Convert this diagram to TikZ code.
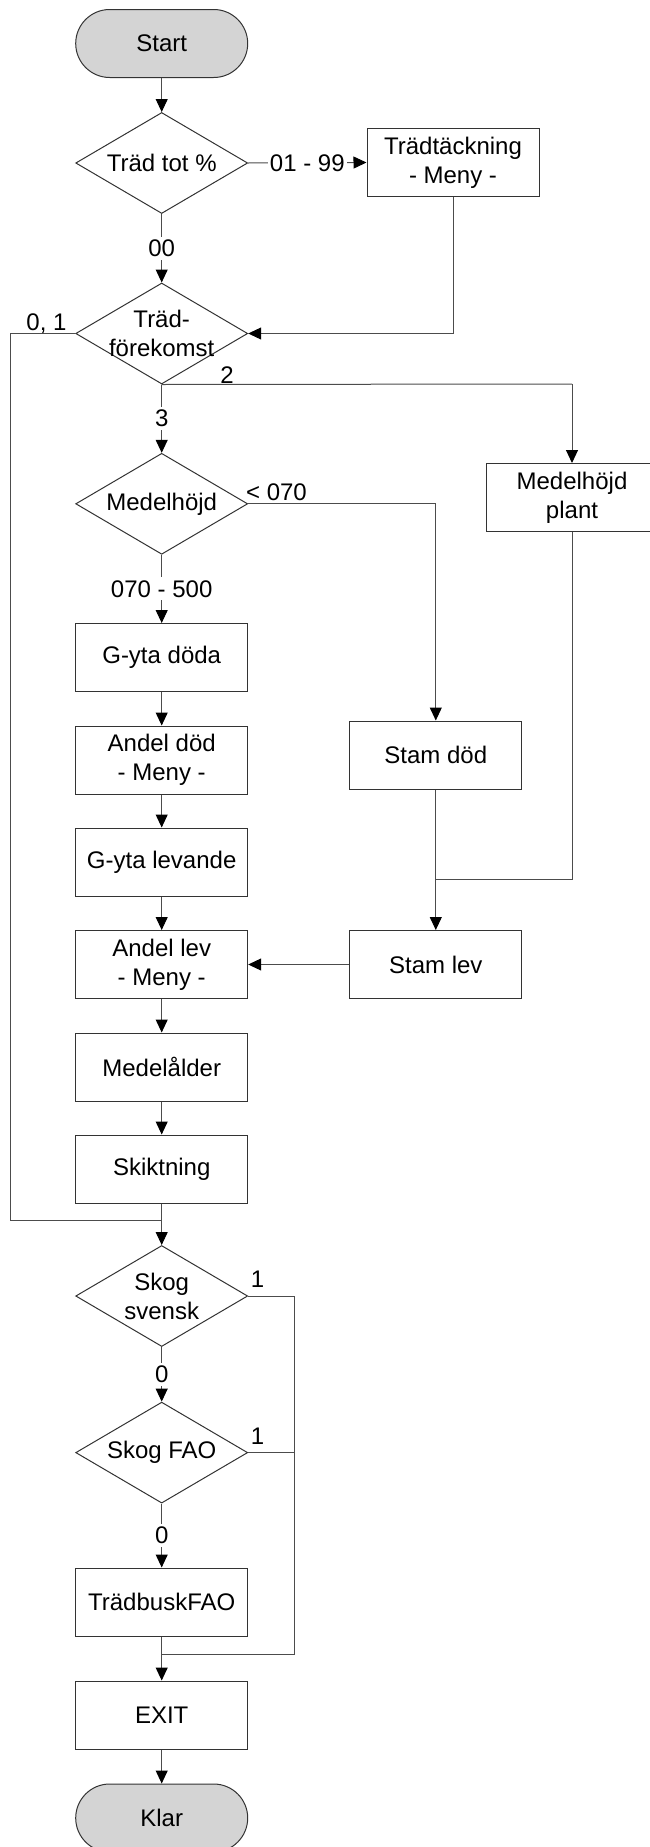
\documentclass[tikz,border=0pt]{standalone}
\usepackage{fontspec}
\setmainfont{Liberation Sans}
\usetikzlibrary{arrows.meta,shapes.geometric}
\begin{document}
\begin{tikzpicture}[x=1pt,y=-1pt,
  every node/.style={font=\fontsize{24}{29}\selectfont, text=black},
  box/.style={draw=black!80, line width=1pt, minimum width=172pt, minimum height=68pt, align=center, inner sep=0pt, fill=white},
  term/.style={box, rounded corners=34pt, fill=black!17},
  dia/.style={draw=black!80, line width=1pt, diamond, minimum width=172pt, minimum height=101pt, inner sep=0pt, fill=white},
  txt/.style={align=center, inner sep=0pt},
  lbl/.style={inner xsep=2pt, inner ysep=3pt, fill=white},
  tag/.style={inner sep=0pt},
  conn/.style={draw=black!70, line width=1pt},
  arr/.style={conn, -{Triangle[length=13pt,width=12pt,color=black]}},
]
\useasboundingbox (0,0) rectangle (650,1847);

% nodes
\node[term] (start) at (161.7,43.5) {Start};
\node[dia] (tot) at (161.7,163) {};
\node[txt] (tottxt) at (tot.center) {Träd tot \%};
\node[box] (tack) at (453,162.5) {Trädtäckning\\- Meny -};
\node[dia] (fore) at (161.7,333.5) {};
\node[txt] (foretxt) at (fore.center) {Träd-\\förekomst};
\node[box] (plant) at (572,497.5) {Medelhöjd\\plant};
\node[dia] (medel) at (161.7,503.8) {};
\node[txt] (medeltxt) at (medel.center) {Medelhöjd};
\node[box] (gdoda) at (161.7,657.5) {G-yta döda};
\node[box] (adod) at (161.7,760) {Andel död\\- Meny -};
\node[box] (stamdod) at (435.8,755) {Stam död};
\node[box] (glev) at (161.7,862) {G-yta levande};
\node[box] (alev) at (161.7,964.5) {Andel lev\\- Meny -};
\node[box] (stamlev) at (435.8,964.5) {Stam lev};
\node[box] (malder) at (161.7,1067) {Medelålder};
\node[box] (skikt) at (161.7,1169) {Skiktning};
\node[dia] (svensk) at (161.7,1296) {};
\node[txt] (svensktxt) at (svensk.center) {Skog\\svensk};
\node[dia] (fao) at (161.7,1452.6) {};
\node[txt] (faotxt) at (fao.center) {Skog FAO};
\node[box] (busk) at (161.7,1602) {TrädbuskFAO};
\node[box] (exit) at (161.7,1715) {EXIT};
\node[term] (klar) at (161.7,1818) {Klar};

% helper coordinates
\coordinate (loopA) at (10.4,333.5);
\coordinate (loopB) at (10.4,1220);
\coordinate (loopJ) at (161.7,1220);
\coordinate (r2) at (572,384);
\coordinate (j1) at (435.8,879);
\coordinate (rA) at (294,1296);
\coordinate (rB) at (294,1654);
\coordinate (jE) at (161.7,1654);

% connectors
\draw[arr] (start) -- (tot.north);
\draw[arr] (tot.east) -- node[lbl] (l0199) {01 - 99} (tack.west);
\draw[arr] (tot.south) -- node[lbl] (l00) {00} (fore.north);
\draw[arr] (tack.south) |- (fore.east);
\draw[conn] (fore.west) -- (loopA) -- (loopB) -- (loopJ);
\draw[conn] (fore.south) -- (r2);
\draw[arr] (r2) -- (plant.north);
\draw[arr] (fore.south) -- node[lbl] (l3) {3} (medel.north);
\draw[arr] (medel.east) -| (stamdod.north);
\draw[arr] (medel.south) -- node[lbl] (l070) {070 - 500} (gdoda.north);
\draw[arr] (gdoda) -- (adod);
\draw[arr] (adod) -- (glev);
\draw[arr] (glev) -- (alev);
\draw[arr] (alev) -- (malder);
\draw[arr] (malder) -- (skikt);
\draw[arr] (skikt) -- (svensk.north);
\draw[arr] (stamdod) -- (stamlev);
\draw[conn] (plant.south) |- (j1);
\draw[arr] (stamlev.west) -- (alev.east);
\draw[arr] (svensk.south) -- node[lbl] (l0a) {0} (fao.north);
\draw[arr] (fao.south) -- node[lbl] (l0b) {0} (busk.north);
\draw[conn] (svensk.east) -- (rA) -- (rB) -- (jE);
\draw[conn] (fao.east) -- (fao.east -| rA);
\draw[arr] (busk) -- (exit);
\draw[arr] (exit) -- (klar);

% labels above lines
\node[tag] (l2) at (227,375) {2};
\node[tag] (l01) at (46.5,324) {0, 1};
\node[tag] (llt) at (276.5,492) {< 070};
\node[tag] (l1a) at (257.5,1279) {1};
\node[tag] (l1b) at (257.5,1436) {1};
\end{tikzpicture}
\end{document}
